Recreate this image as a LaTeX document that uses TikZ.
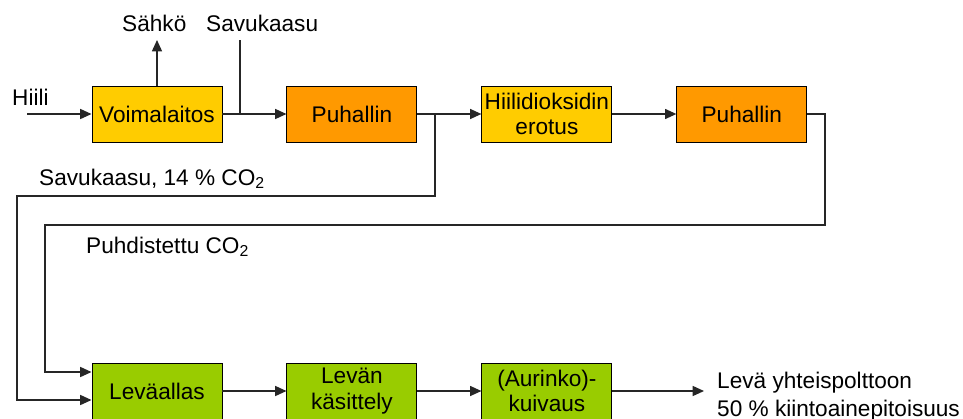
\documentclass[tikz,border=0pt]{standalone}
\usepackage{fontspec}
\setmainfont{Liberation Sans}
\usepackage{tikz}
\usetikzlibrary{positioning, arrows.meta, calc}
\definecolor{boxyellow}{HTML}{FFCC00}
\definecolor{boxorange}{HTML}{FF9900}
\definecolor{boxgreen}{HTML}{99CC00}
\definecolor{linegray}{HTML}{262626}
\tikzset{
  procbox/.style={draw=black, line width=0.8pt, minimum width=3.9cm, minimum height=1.68cm,
    inner sep=0pt, align=center, font=\fontsize{19.3}{22}\selectfont},
  flow/.style={draw=linegray, line width=1.2pt, -{Triangle[length=0.34cm,width=0.3cm]}},
  pipe/.style={draw=linegray, line width=1.2pt},
  lbl/.style={inner sep=0pt, font=\fontsize{19.3}{23.5}\selectfont, align=left}
}

\begin{document}
\begin{tikzpicture}[x=0.03cm, y=-0.03cm, node distance=1.92cm]
  \useasboundingbox (0,0) rectangle (963,418);
  \node[procbox, fill=boxyellow] (plant) at (157,114) {Voimalaitos};
  \node[procbox, fill=boxorange, right=of plant] (fan1) {Puhallin};
  \node[procbox, fill=boxyellow, right=of fan1] (capture) {Hiilidioksidin\\erotus};
  \node[procbox, fill=boxorange, right=of capture] (fan2) {Puhallin};
  \node[procbox, fill=boxgreen] (pond) at (157,391) {Leväallas};
  \node[procbox, fill=boxgreen, right=of pond] (treat) {Levän\\käsittely};
  \node[procbox, fill=boxgreen, right=of treat] (dry) {(Aurinko)-\\kuivaus};

  \coordinate (coalin) at (27,114);
  \coordinate (power) at (157,40);
  \coordinate (fluetop) at (240,40);
  \coordinate (split) at (435,114);
  \coordinate (out) at (704,391);

  \node[lbl, anchor=base west] (coal) at (12,105) {Hiili};
  \node[lbl, anchor=base west] (elec) at (122,31) {Sähkö};
  \node[lbl, anchor=base west] (flue) at (206,31) {Savukaasu};
  \node[lbl, anchor=base west] (fluegas) at (39,185) {Savukaasu, 14 \% CO\textsubscript{2}};
  \node[lbl, anchor=base west] (pureco2) at (86,253) {Puhdistettu CO\textsubscript{2}};
  \node[lbl, anchor=north west] (product) at (717,372) {Levä yhteispolttoon\\50 \% kiintoainepitoisuus};

  \draw[flow] (coalin) -- (plant);
  \draw[flow] (plant.north) -- (power);
  \draw[pipe] (fluetop) -- (fluetop |- plant.east);
  \draw[flow] (plant) -- (fan1);
  \draw[flow] (fan1) -- (capture);
  \draw[flow] (capture) -- (fan2);
  \draw[flow] (split) |- (17,196) |- ($(pond.west)+(0,9)$);
  \draw[flow] (fan2.east) -| (825,225) -- (45,225) |- ($(pond.west)+(0,-19)$);
  \draw[flow] (pond) -- (treat);
  \draw[flow] (treat) -- (dry);
  \draw[flow] (dry) -- (out);
\end{tikzpicture}
\end{document}
